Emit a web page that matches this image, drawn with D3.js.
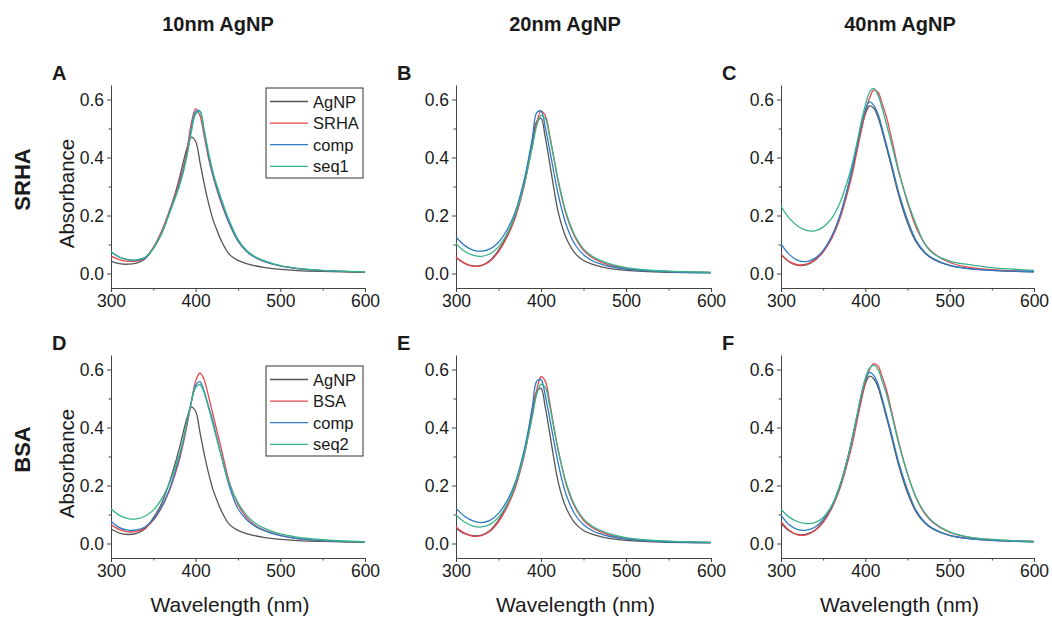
<!DOCTYPE html>
<html><head><meta charset="utf-8">
<script src="https://cdn.jsdelivr.net/npm/d3@7"></script>
<style>
body{margin:0;background:#fff}
text{font-family:"Liberation Sans",Arial,Helvetica,sans-serif;fill:#1a1a1a}
</style>
</head><body>
<svg id="chart" width="1052" height="619"></svg>
<script>
// ---------- data ----------
const wavelength = [300,310,320,330,340,350,360,370,380,385,390,395,400,405,410,415,420,425,430,440,450,460,470,480,500,520,550,600];

// Panel A: 10nm AgNP, SRHA
const A_AgNP = [0.043,0.034,0.032,0.036,0.05,0.088,0.14,0.22,0.32,0.38,0.435,0.47,0.455,0.385,0.31,0.245,0.19,0.15,0.115,0.065,0.045,0.034,0.027,0.021,0.014,0.01,0.007,0.004];
const A_SRHA = [0.06,0.048,0.042,0.043,0.053,0.09,0.148,0.225,0.31,0.36,0.43,0.52,0.568,0.545,0.475,0.4,0.34,0.29,0.245,0.17,0.112,0.077,0.056,0.043,0.026,0.017,0.01,0.006];
const A_comp = [0.074,0.056,0.047,0.046,0.054,0.086,0.14,0.218,0.3,0.35,0.415,0.5,0.558,0.56,0.49,0.41,0.345,0.295,0.25,0.172,0.113,0.077,0.056,0.043,0.026,0.017,0.01,0.006];
const A_seq1 = [0.075,0.057,0.048,0.047,0.055,0.087,0.14,0.215,0.295,0.345,0.41,0.49,0.55,0.558,0.495,0.42,0.355,0.305,0.26,0.18,0.118,0.08,0.058,0.045,0.027,0.018,0.011,0.006];

// Panel B: 20nm AgNP, SRHA
const B_AgNP = [0.055,0.035,0.026,0.028,0.045,0.08,0.13,0.2,0.31,0.38,0.46,0.525,0.535,0.47,0.385,0.295,0.215,0.16,0.12,0.07,0.045,0.032,0.024,0.018,0.011,0.007,0.004,0.002];
const B_SRHA = [0.057,0.036,0.025,0.027,0.042,0.075,0.125,0.195,0.3,0.37,0.445,0.52,0.56,0.545,0.48,0.4,0.32,0.255,0.2,0.125,0.08,0.055,0.04,0.03,0.018,0.011,0.007,0.004];
const B_comp = [0.126,0.097,0.081,0.077,0.085,0.108,0.15,0.215,0.32,0.39,0.47,0.555,0.56,0.505,0.43,0.35,0.275,0.215,0.165,0.1,0.065,0.045,0.033,0.025,0.015,0.01,0.006,0.003];
const B_seq1 = [0.103,0.077,0.063,0.059,0.068,0.092,0.137,0.205,0.305,0.37,0.44,0.51,0.545,0.535,0.475,0.4,0.325,0.26,0.205,0.13,0.085,0.06,0.045,0.034,0.02,0.013,0.008,0.004];

// Panel C: 40nm AgNP, SRHA
const C_AgNP = [0.067,0.04,0.028,0.03,0.045,0.075,0.125,0.2,0.305,0.365,0.43,0.495,0.55,0.578,0.57,0.54,0.49,0.435,0.38,0.265,0.175,0.11,0.072,0.05,0.028,0.018,0.011,0.006];
const C_SRHA = [0.065,0.04,0.03,0.032,0.047,0.075,0.12,0.19,0.29,0.35,0.42,0.49,0.555,0.605,0.632,0.625,0.585,0.54,0.48,0.35,0.245,0.16,0.105,0.072,0.038,0.023,0.013,0.007];
const C_comp = [0.102,0.065,0.045,0.041,0.052,0.08,0.128,0.2,0.305,0.37,0.44,0.51,0.565,0.592,0.58,0.55,0.5,0.445,0.39,0.275,0.185,0.115,0.075,0.052,0.028,0.018,0.011,0.006];
const C_seq1 = [0.232,0.19,0.163,0.149,0.147,0.16,0.19,0.245,0.33,0.385,0.45,0.52,0.58,0.625,0.638,0.615,0.57,0.515,0.46,0.345,0.25,0.17,0.105,0.07,0.043,0.032,0.02,0.011];

// Panel D: 10nm AgNP, BSA
const D_AgNP = [0.05,0.036,0.031,0.035,0.05,0.088,0.14,0.22,0.32,0.38,0.435,0.47,0.455,0.385,0.31,0.245,0.19,0.15,0.115,0.065,0.045,0.034,0.027,0.021,0.014,0.01,0.007,0.004];
const D_BSA = [0.065,0.048,0.04,0.042,0.053,0.08,0.125,0.19,0.28,0.34,0.41,0.49,0.56,0.588,0.565,0.51,0.45,0.39,0.33,0.21,0.135,0.09,0.063,0.047,0.028,0.017,0.01,0.005];
const D_comp = [0.077,0.055,0.046,0.047,0.057,0.083,0.128,0.195,0.29,0.35,0.42,0.49,0.545,0.558,0.525,0.475,0.425,0.365,0.305,0.195,0.12,0.083,0.06,0.045,0.027,0.017,0.01,0.005];
const D_seq2 = [0.12,0.097,0.086,0.085,0.094,0.115,0.155,0.215,0.3,0.355,0.42,0.49,0.538,0.548,0.52,0.47,0.415,0.36,0.305,0.205,0.14,0.098,0.071,0.054,0.033,0.022,0.013,0.006];

// Panel E: 20nm AgNP, BSA
const E_AgNP = [0.052,0.034,0.027,0.029,0.045,0.08,0.13,0.2,0.31,0.38,0.46,0.525,0.535,0.47,0.385,0.295,0.215,0.16,0.12,0.07,0.045,0.032,0.024,0.018,0.011,0.007,0.004,0.002];
const E_BSA = [0.057,0.036,0.025,0.027,0.042,0.075,0.125,0.195,0.3,0.37,0.45,0.53,0.575,0.56,0.49,0.405,0.325,0.26,0.2,0.125,0.08,0.055,0.04,0.03,0.018,0.011,0.007,0.004];
const E_comp = [0.121,0.094,0.078,0.072,0.08,0.104,0.147,0.213,0.32,0.39,0.475,0.56,0.565,0.51,0.435,0.355,0.28,0.215,0.165,0.1,0.065,0.045,0.033,0.025,0.015,0.01,0.006,0.003];
const E_seq2 = [0.098,0.074,0.06,0.057,0.066,0.09,0.135,0.203,0.305,0.37,0.44,0.515,0.549,0.538,0.478,0.4,0.325,0.26,0.205,0.13,0.085,0.06,0.045,0.034,0.02,0.013,0.008,0.004];

// Panel F: 40nm AgNP, BSA
const F_AgNP = [0.07,0.043,0.031,0.032,0.046,0.075,0.125,0.2,0.305,0.365,0.43,0.495,0.55,0.577,0.568,0.54,0.49,0.435,0.38,0.265,0.175,0.11,0.072,0.05,0.028,0.018,0.011,0.006];
const F_BSA = [0.075,0.045,0.03,0.03,0.044,0.073,0.12,0.19,0.29,0.35,0.42,0.49,0.555,0.6,0.62,0.612,0.575,0.53,0.47,0.345,0.24,0.158,0.105,0.072,0.038,0.023,0.013,0.007];
const F_comp = [0.098,0.064,0.048,0.046,0.056,0.082,0.128,0.2,0.305,0.37,0.44,0.51,0.565,0.59,0.58,0.55,0.5,0.445,0.39,0.275,0.185,0.115,0.075,0.052,0.028,0.018,0.011,0.006];
const F_seq2 = [0.118,0.09,0.075,0.069,0.072,0.09,0.13,0.2,0.305,0.37,0.44,0.51,0.57,0.605,0.615,0.6,0.56,0.515,0.46,0.34,0.24,0.16,0.108,0.075,0.04,0.024,0.014,0.007];

const columnTitles = ["10nm AgNP","20nm AgNP","40nm AgNP"];
const rowTitles = ["SRHA","BSA"];
const panelLetters = ["A","B","C","D","E","F"];
const seriesNamesSRHA = ["AgNP","SRHA","comp","seq1"];
const seriesNamesBSA = ["AgNP","BSA","comp","seq2"];
const xTicks = [300,400,500,600];
const xMinorTicks = [350,450,550];
const yTicks = [0.0,0.2,0.4,0.6];
const yMinorTicks = [0.1,0.3,0.5];

// ---------- layout ----------
const colors = ["#555555","#e8464e","#2c7bc4","#35b38b"];
const cols = [{l:111,r:365,title:218},{l:456,r:711,title:565},{l:781,r:1034,title:900}];
const rows = [{t:85,b:288},{t:355,b:558}];
const panels = [
  {row:0,col:0,series:[A_AgNP,A_SRHA,A_comp,A_seq1],legend:seriesNamesSRHA},
  {row:0,col:1,series:[B_AgNP,B_SRHA,B_comp,B_seq1]},
  {row:0,col:2,series:[C_AgNP,C_SRHA,C_comp,C_seq1]},
  {row:1,col:0,series:[D_AgNP,D_BSA,D_comp,D_seq2],legend:seriesNamesBSA},
  {row:1,col:1,series:[E_AgNP,E_BSA,E_comp,E_seq2]},
  {row:1,col:2,series:[F_AgNP,F_BSA,F_comp,F_seq2]}
];

const svg = d3.select("#chart");

// column titles
columnTitles.forEach((t,i)=>{
  svg.append("text").attr("x",cols[i].title).attr("y",31)
    .attr("text-anchor","middle").attr("font-size",20).attr("font-weight","bold").text(t);
});
// row titles
rowTitles.forEach((t,i)=>{
  const cy = (rows[i].t+rows[i].b)/2 - 7;
  svg.append("text").attr("transform",`translate(30,${cy}) rotate(-90)`)
    .attr("text-anchor","middle").attr("font-size",22).attr("font-weight","bold").text(t);
});

panels.forEach((p,pi)=>{
  const c = cols[p.col], r = rows[p.row];
  const x = d3.scaleLinear().domain([300,600]).range([c.l,c.r]);
  const y = d3.scaleLinear().domain([-0.05,0.65]).range([r.b,r.t]);
  const g = svg.append("g");

  // panel letter
  g.append("text").attr("x",c.l-59).attr("y",r.t-5).attr("font-size",20)
    .attr("font-weight","bold").text(panelLetters[pi]);

  // axes
  g.append("g").attr("transform",`translate(0,${r.b})`)
    .call(d3.axisBottom(x).tickValues(xTicks).tickSize(4).tickSizeOuter(0).tickPadding(3));
  g.append("g").attr("transform",`translate(0,${r.b})`)
    .call(d3.axisBottom(x).tickValues(xMinorTicks).tickSize(2.5).tickFormat("")).select(".domain").remove();
  g.append("g").attr("transform",`translate(${c.l},0)`)
    .call(d3.axisLeft(y).tickValues(yTicks).tickFormat(d3.format(".1f")).tickSize(4).tickSizeOuter(0).tickPadding(3));
  g.append("g").attr("transform",`translate(${c.l},0)`)
    .call(d3.axisLeft(y).tickValues(yMinorTicks).tickSize(2.5).tickFormat("")).select(".domain").remove();
  g.selectAll(".domain, .tick line").attr("stroke","#444").attr("stroke-width",1);
  g.selectAll(".tick text").attr("font-size",17.5).attr("fill","#1a1a1a")
    .attr("font-family","'Liberation Sans',Arial,sans-serif");

  // curves
  const line = d3.line().x((d,i)=>x(wavelength[i])).y(d=>y(d)).curve(d3.curveCatmullRom.alpha(0.5));
  p.series.forEach((s,si)=>{
    g.append("path").datum(s).attr("d",line).attr("fill","none")
      .attr("stroke",colors[si]).attr("stroke-width",1.3);
  });

  // legend
  if(p.legend){
    const lx = c.r - 99, ly = r.t + 3 + (p.row===1?8:0);
    const lg = g.append("g").attr("transform",`translate(${lx},${ly})`);
    lg.append("rect").attr("width",97).attr("height",90).attr("fill","#fff")
      .attr("stroke","#333").attr("stroke-width",1);
    p.legend.forEach((n,k)=>{
      const yy = 13.5 + k*21.6;
      lg.append("line").attr("x1",4).attr("x2",42).attr("y1",yy).attr("y2",yy)
        .attr("stroke",colors[k]).attr("stroke-width",1.3);
      lg.append("text").attr("x",47).attr("y",yy+6).attr("font-size",16.5).text(n);
    });
  }

  // axis titles
  if(p.col===0){
    g.append("text").attr("transform",`translate(74,${(r.t+r.b)/2+7}) rotate(-90)`)
      .attr("text-anchor","middle").attr("font-size",20.5).text("Absorbance");
  }
  if(p.row===1){
    g.append("text").attr("x",(c.l+c.r)/2-8).attr("y",612)
      .attr("text-anchor","middle").attr("font-size",21).text("Wavelength (nm)");
  }
});
</script>
</body></html>
